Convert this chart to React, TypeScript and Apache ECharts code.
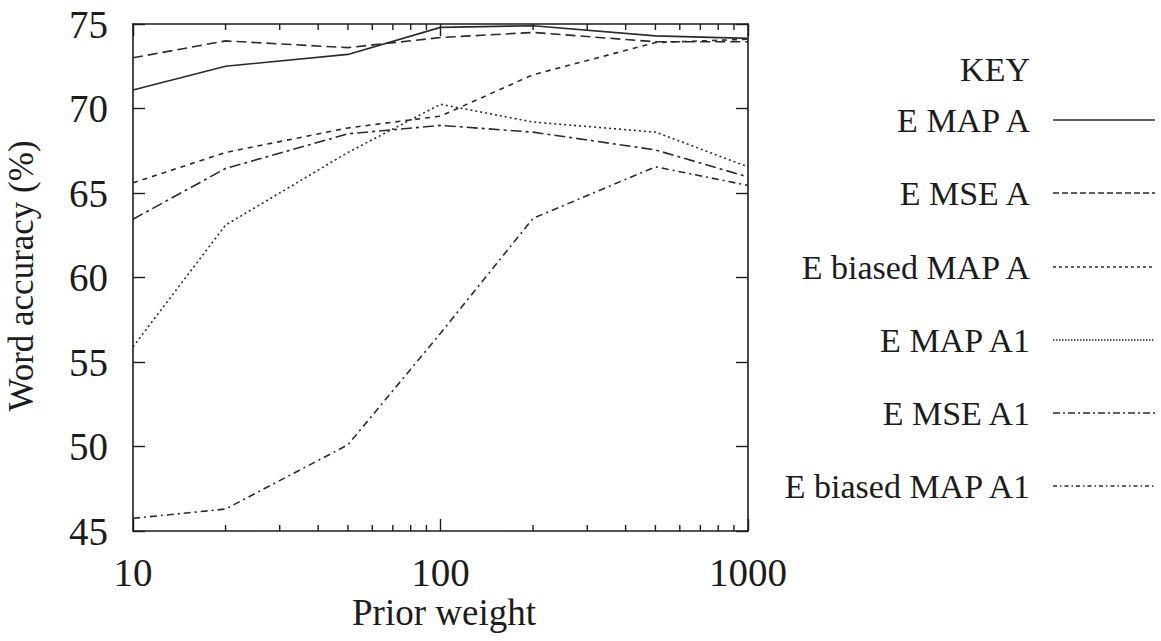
import React, { useEffect, useRef } from "react";
import * as echarts from "echarts";

const xValues = [10, 20, 50, 100, 200, 500, 1000];
const eMapA = [71.1, 72.5, 73.2, 74.8, 74.9, 74.3, 74.15];
const eMseA = [73.0, 74.0, 73.6, 74.2, 74.5, 73.95, 73.95];
const eBiasedMapA = [65.6, 67.4, 68.85, 69.55, 72.0, 73.9, 74.1];
const eMapA1 = [55.9, 63.1, 67.4, 70.25, 69.2, 68.6, 66.55];
const eMseA1 = [63.45, 66.45, 68.5, 69.0, 68.6, 67.55, 65.95];
const eBiasedMapA1 = [45.75, 46.3, 50.1, 56.7, 63.5, 66.55, 65.45];

const seriesNames = ["E MAP A", "E MSE A", "E biased MAP A", "E MAP A1", "E MSE A1", "E biased MAP A1"];
const seriesValues = [eMapA, eMseA, eBiasedMapA, eMapA1, eMseA1, eBiasedMapA1];
const minorTickValues = [20, 30, 40, 50, 60, 70, 80, 90, 200, 300, 400, 500, 600, 700, 800, 900];
const xTitle = "Prior weight";
const yTitle = "Word accuracy (%)";

const FONT = "'Liberation Serif', 'Times New Roman', 'DejaVu Serif', serif";
const INK = "#1c1c1c";
const LINE = "#2b2b2b";
const dashes: (number[] | null)[] = [null, [10, 5], [5, 5], [2, 3], [11, 4, 3, 4], [7, 4, 2, 4]];
const legendDashes: (number[] | null)[] = [null, [6, 3], [3, 3], [1.5, 1.5], [7, 3, 2, 3], [4, 3, 1.5, 3]];

export default function App() {
  const ref = useRef<HTMLDivElement>(null);
  useEffect(() => {
    document.body.style.margin = "0";
    const chart = echarts.init(ref.current!, null, { renderer: "svg" });
    const axisLine = { show: true, lineStyle: { color: INK, width: 1.6 } };
    const series: any[] = seriesNames.map((name, i) => ({
      name,
      type: "line",
      data: xValues.map((x, j) => [x, seriesValues[i][j]]),
      showSymbol: false,
      symbol: "none",
      lineStyle: { color: LINE, width: 1.6, type: dashes[i] ?? "solid" },
      z: 3,
    }));
    series.push({
      type: "custom",
      data: minorTickValues.map((v) => [v, 45]),
      encode: { x: 0, y: 1 },
      silent: true,
      renderItem: (params: any, api: any) => {
        const v = api.value(0);
        const b = api.coord([v, 45]);
        const t = api.coord([v, 75]);
        const st = { stroke: INK, lineWidth: 1.4 };
        return {
          type: "group",
          children: [
            { type: "line", shape: { x1: b[0], y1: b[1], x2: b[0], y2: b[1] - 6 }, style: st },
            { type: "line", shape: { x1: t[0], y1: t[1], x2: t[0], y2: t[1] + 6 }, style: st },
          ],
        };
      },
    });

    const graphics: any[] = [
      { type: "text", x: 1030, y: 69, style: { text: "KEY", font: `34px ${FONT}`, fill: INK, align: "right", verticalAlign: "middle" } },
      { type: "text", x: 444, y: 612, style: { text: xTitle, font: `37px ${FONT}`, fill: INK, align: "center", verticalAlign: "middle" } },
      {
        type: "text",
        x: 21,
        y: 276,
        rotation: Math.PI / 2,
        style: { text: yTitle, font: `35px ${FONT}`, fill: INK, align: "center", verticalAlign: "middle" },
      },
    ];
    const legendY = [120, 193, 267, 340, 413, 486];
    seriesNames.forEach((name, i) => {
      graphics.push({
        type: "text",
        x: 1030,
        y: legendY[i],
        style: { text: name, font: `34px ${FONT}`, fill: INK, align: "right", verticalAlign: "middle" },
      });
      graphics.push({
        type: "line",
        shape: { x1: 1053, y1: legendY[i], x2: 1155, y2: legendY[i] },
        style: { stroke: LINE, lineWidth: 1.4, lineDash: legendDashes[i] ?? undefined },
      });
    });

    chart.setOption({
      animation: false,
      backgroundColor: "#ffffff",
      textStyle: { fontFamily: FONT },
      grid: { left: 133, right: 413, top: 24, bottom: 110, containLabel: false, outerBoundsMode: "none" },
      xAxis: [
        {
          type: "log",
          logBase: 10,
          min: 10,
          max: 1000,
          axisLine,
          axisTick: { show: true, inside: true, length: 12, lineStyle: { color: INK, width: 1.4 } },
          axisLabel: { fontSize: 39, color: INK, fontFamily: FONT, margin: 22, formatter: (v: number) => String(v) },
          splitLine: { show: false },
        },
        {
          type: "log",
          logBase: 10,
          min: 10,
          max: 1000,
          position: "top",
          axisLine,
          axisTick: { show: true, inside: true, length: 12, lineStyle: { color: INK, width: 1.4 } },
          axisLabel: { show: false },
          splitLine: { show: false },
        },
      ],
      yAxis: [
        {
          type: "value",
          min: 45,
          max: 75,
          interval: 5,
          axisLine,
          axisTick: { show: true, inside: true, length: 12, lineStyle: { color: INK, width: 1.4 } },
          axisLabel: { fontSize: 39, color: INK, fontFamily: FONT, margin: 25 },
          splitLine: { show: false },
        },
        {
          type: "value",
          min: 45,
          max: 75,
          interval: 5,
          position: "right",
          axisLine,
          axisTick: { show: true, inside: true, length: 12, lineStyle: { color: INK, width: 1.4 } },
          axisLabel: { show: false },
          splitLine: { show: false },
        },
      ],
      series,
      graphic: graphics,
    });
    return () => chart.dispose();
  }, []);
  return <div ref={ref} style={{ width: 1161, height: 641 }} />;
}
